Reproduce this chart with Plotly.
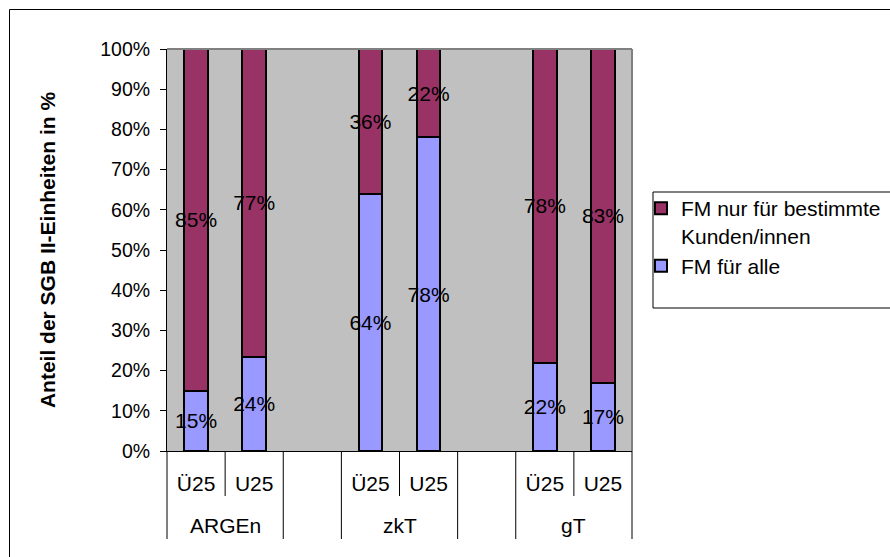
import plotly.graph_objects as go

groups = ["ARGEn", "ARGEn", "", "zkT", "zkT", "", "gT", "gT"]
subcats = ["Ü25", "U25", "", "Ü25", "U25", "", "Ü25", "U25"]
fm_alle = [15, 23.5, None, 64, 78, None, 22, 17]
fm_bestimmte = [85, 76.5, None, 36, 22, None, 78, 83]
lbl_alle = ["15%", "24%", "", "64%", "78%", "", "22%", "17%"]
lbl_bestimmte = ["85%", "77%", "", "36%", "22%", "", "78%", "83%"]
y_ticks = [0, 10, 20, 30, 40, 50, 60, 70, 80, 90, 100]
y_ticklabels = [f"{v}%" for v in y_ticks]

FONT = "Liberation Sans, Arial, sans-serif"
FS = 19.5
XFS = 21

W, H = 890, 557
L, T = 167, 49
PW, PH = 465, 402
R, B = W - L - PW, H - T - PH

def px(x):
    return (x - L) / PW

def py(y):
    return (T + PH - y) / PH

pos = list(range(len(subcats)))

fig = go.Figure()
common = dict(textposition="inside", insidetextanchor="middle", constraintext="none",
              textangle=0, cliponaxis=False,
              insidetextfont=dict(family=FONT, size=XFS, color="black"))
fig.add_trace(go.Bar(x=pos, y=fm_alle, name="FM für alle",
                     marker=dict(color="#9999FF", line=dict(color="black", width=2)),
                     text=lbl_alle, **common))
fig.add_trace(go.Bar(x=pos, y=fm_bestimmte, name="FM nur für bestimmte<br>Kunden/innen",
                     marker=dict(color="#993366", line=dict(color="black", width=2)),
                     text=lbl_bestimmte, **common))

label_pos = [p for p, s in zip(pos, subcats) if s]
label_txt = [s for s in subcats if s]

shapes = [
    dict(type="line", xref="paper", yref="paper", x0=0, x1=1, y0=1, y1=1,
         line=dict(color="#808080", width=2)),
    dict(type="line", xref="paper", yref="paper", x0=1, x1=1, y0=0, y1=1,
         line=dict(color="#808080", width=2)),
    dict(type="rect", xref="paper", yref="paper",
         x0=px(653), x1=px(905), y0=py(308), y1=py(192),
         line=dict(color="black", width=1), fillcolor="rgba(0,0,0,0)"),
    dict(type="line", xref="paper", yref="paper",
         x0=px(9.5), x1=px(905), y0=py(9.5), y1=py(9.5),
         line=dict(color="black", width=1)),
    dict(type="line", xref="paper", yref="paper",
         x0=px(9.5), x1=px(9.5), y0=py(9.5), y1=py(610),
         line=dict(color="black", width=1)),
]
LONG = -88 / PH
SHORT = -45 / PH
# boundaries between slots
for i in range(len(pos) + 1):
    left_g = groups[i - 1] if i > 0 else None
    right_g = groups[i] if i < len(pos) else None
    is_long = (i == 0 or i == len(pos) or left_g != right_g or left_g == "")
    y1 = LONG if is_long else SHORT
    if i == 0:
        shapes.append(dict(type="line", xref="paper", yref="paper", x0=0, x1=0, y0=0, y1=y1,
                           line=dict(color="black", width=1)))
    elif i == len(pos):
        shapes.append(dict(type="line", xref="paper", yref="paper", x0=1, x1=1, y0=0, y1=y1,
                           line=dict(color="black", width=1)))
    else:
        shapes.append(dict(type="line", xref="x", yref="paper", x0=i - 0.5, x1=i - 0.5,
                           y0=0, y1=y1, line=dict(color="black", width=1)))

annotations = []
seen = []
for g in groups:
    if g and g not in seen:
        seen.append(g)
for g in seen:
    idx = [p for p, gg in zip(pos, groups) if gg == g]
    annotations.append(dict(x=sum(idx) / len(idx), y=-74 / PH, xref="x", yref="paper",
                            text=g, showarrow=False, yanchor="middle", xanchor="center",
                            font=dict(family=FONT, size=XFS, color="black")))

fig.update_layout(
    autosize=False,
    barmode="stack",
    bargap=0.59,
    width=W, height=H,
    margin=dict(l=L, r=R, t=T, b=B, autoexpand=False),
    paper_bgcolor="white",
    plot_bgcolor="#C0C0C0",
    font=dict(family=FONT, size=FS, color="black"),
    showlegend=True,
    legend=dict(x=641 / W, y=1 - 188 / H, xref="container", yref="container",
                xanchor="left", yanchor="top", valign="top",
                traceorder="reversed", bgcolor="rgba(0,0,0,0)",
                font=dict(family=FONT, size=XFS, color="black")),
    xaxis=dict(range=[-0.5, len(pos) - 0.5], tickvals=label_pos, ticktext=label_txt,
               showgrid=False, ticks="", showline=True, linecolor="black", zeroline=False,
               ticklabelstandoff=14, automargin=False,
               tickfont=dict(family=FONT, size=XFS, color="black")),
    yaxis=dict(range=[0, 100], tickvals=y_ticks, ticktext=y_ticklabels, showgrid=False,
               ticks="outside", ticklen=6, tickcolor="black", showline=True, linecolor="black",
               zeroline=False, ticklabelstandoff=6, automargin=False,
               title=dict(text="<b>Anteil der SGB II-Einheiten in %</b>",
                          font=dict(family=FONT, size=XFS, color="black"), standoff=38),
               tickfont=dict(family=FONT, size=FS, color="black")),
    shapes=shapes,
    annotations=annotations,
)

fig.write_html("out.html",
               config={"responsive": False, "displayModeBar": False},
               post_script="document.body.style.margin='0';document.body.style.overflow='hidden';")
